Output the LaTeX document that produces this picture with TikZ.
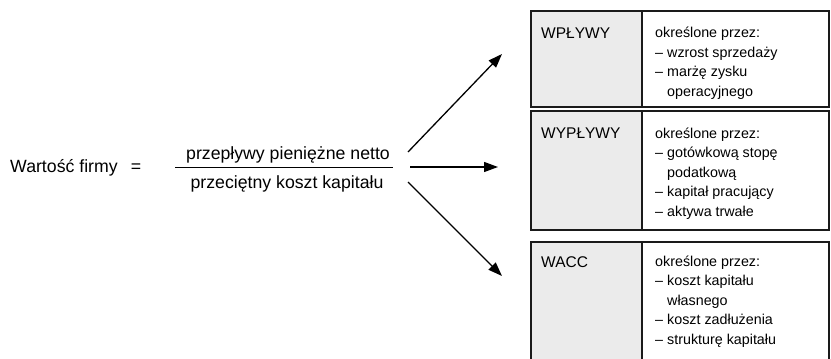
\documentclass[tikz,border=0pt]{standalone}
\usepackage{fontspec}
\setmainfont{Liberation Sans}
\usetikzlibrary{arrows.meta}
\definecolor{boxgray}{HTML}{EBEBEB}
\definecolor{linegray}{HTML}{1A1A1A}
\begin{document}
\begin{tikzpicture}[x=1pt,y=-1pt,
  boxline/.style={draw=linegray,line width=1.3pt},
  lbl/.style={anchor=base west,inner sep=0pt,font=\fontsize{15.5}{19}\selectfont},
  desc/.style={anchor=base west,inner sep=0pt,font=\fontsize{14.3}{19}\selectfont},
  maintext/.style={anchor=base,inner sep=0pt,font=\fontsize{17.7}{21}\selectfont},
  arr/.style={line width=1.3pt,-{Triangle[length=14pt,width=10pt]}}]
\useasboundingbox (0,0) rectangle (831,359);
% box 1
\fill[boxgray] (531,11) rectangle (642,107);
\draw[boxline] (531,11) rectangle (829,107);
\draw[boxline] (642,11) -- (642,107);
% box 2
\fill[boxgray] (531,111) rectangle (642,230);
\draw[boxline] (531,111) rectangle (829,230);
\draw[boxline] (642,111) -- (642,230);
% box 3
\fill[boxgray] (531,242) rectangle (642,362);
\draw[boxline] (531,362) -- (531,242) -- (829,242) -- (829,362);
\draw[boxline] (642,242) -- (642,362);
% labels
\node[lbl] (l1) at (541,38) {WPŁYWY};
\node[lbl] (l2) at (541,138.5) {WYPŁYWY};
\node[lbl] (l3) at (541,267) {WACC};
% box 1 text
\node[desc] (a1) at (655,37.5) {określone przez:};
\node[desc] (a2) at (655,57) {\makebox[12pt][l]{–}wzrost sprzedaży};
\node[desc] (a3) at (655,76.5) {\makebox[12pt][l]{–}marżę zysku};
\node[desc] (a4) at (667,96) {operacyjnego};
% box 2 text
\node[desc] (b1) at (655,138) {określone przez:};
\node[desc] (b2) at (655,157.5) {\makebox[12pt][l]{–}gotówkową stopę};
\node[desc] (b3) at (667,177) {podatkową};
\node[desc] (b4) at (655,196.5) {\makebox[12pt][l]{–}kapitał pracujący};
\node[desc] (b5) at (655,216) {\makebox[12pt][l]{–}aktywa trwałe};
% box 3 text
\node[desc] (c1) at (655,266) {określone przez:};
\node[desc] (c2) at (655,285.5) {\makebox[12pt][l]{–}koszt kapitału};
\node[desc] (c3) at (667,305) {własnego};
\node[desc] (c4) at (655,324.5) {\makebox[12pt][l]{–}koszt zadłużenia};
\node[desc] (c5) at (655,344) {\makebox[12pt][l]{–}strukturę kapitału};
% formula
\node[maintext,anchor=base west] (wf) at (10,172) {Wartość firmy};
\node[maintext] (eq) at (136,172) {=};
\node[maintext] (num) at (288,159) {przepływy pieniężne netto};
\node[maintext] (den) at (287,188) {przeciętny koszt kapitału};
\coordinate (barL) at (175,167);
\coordinate (barR) at (393,167);
\draw[line width=1pt] (barL) -- (barR);
% arrows
\coordinate (s1) at (408,152);
\coordinate (e1) at (502,54);
\coordinate (s2) at (410,167);
\coordinate (e2) at (498,167);
\coordinate (s3) at (408,182);
\coordinate (e3) at (502,276);
\draw[arr] (s1) -- (e1);
\draw[arr] (s2) -- (e2);
\draw[arr] (s3) -- (e3);
\end{tikzpicture}
\end{document}
